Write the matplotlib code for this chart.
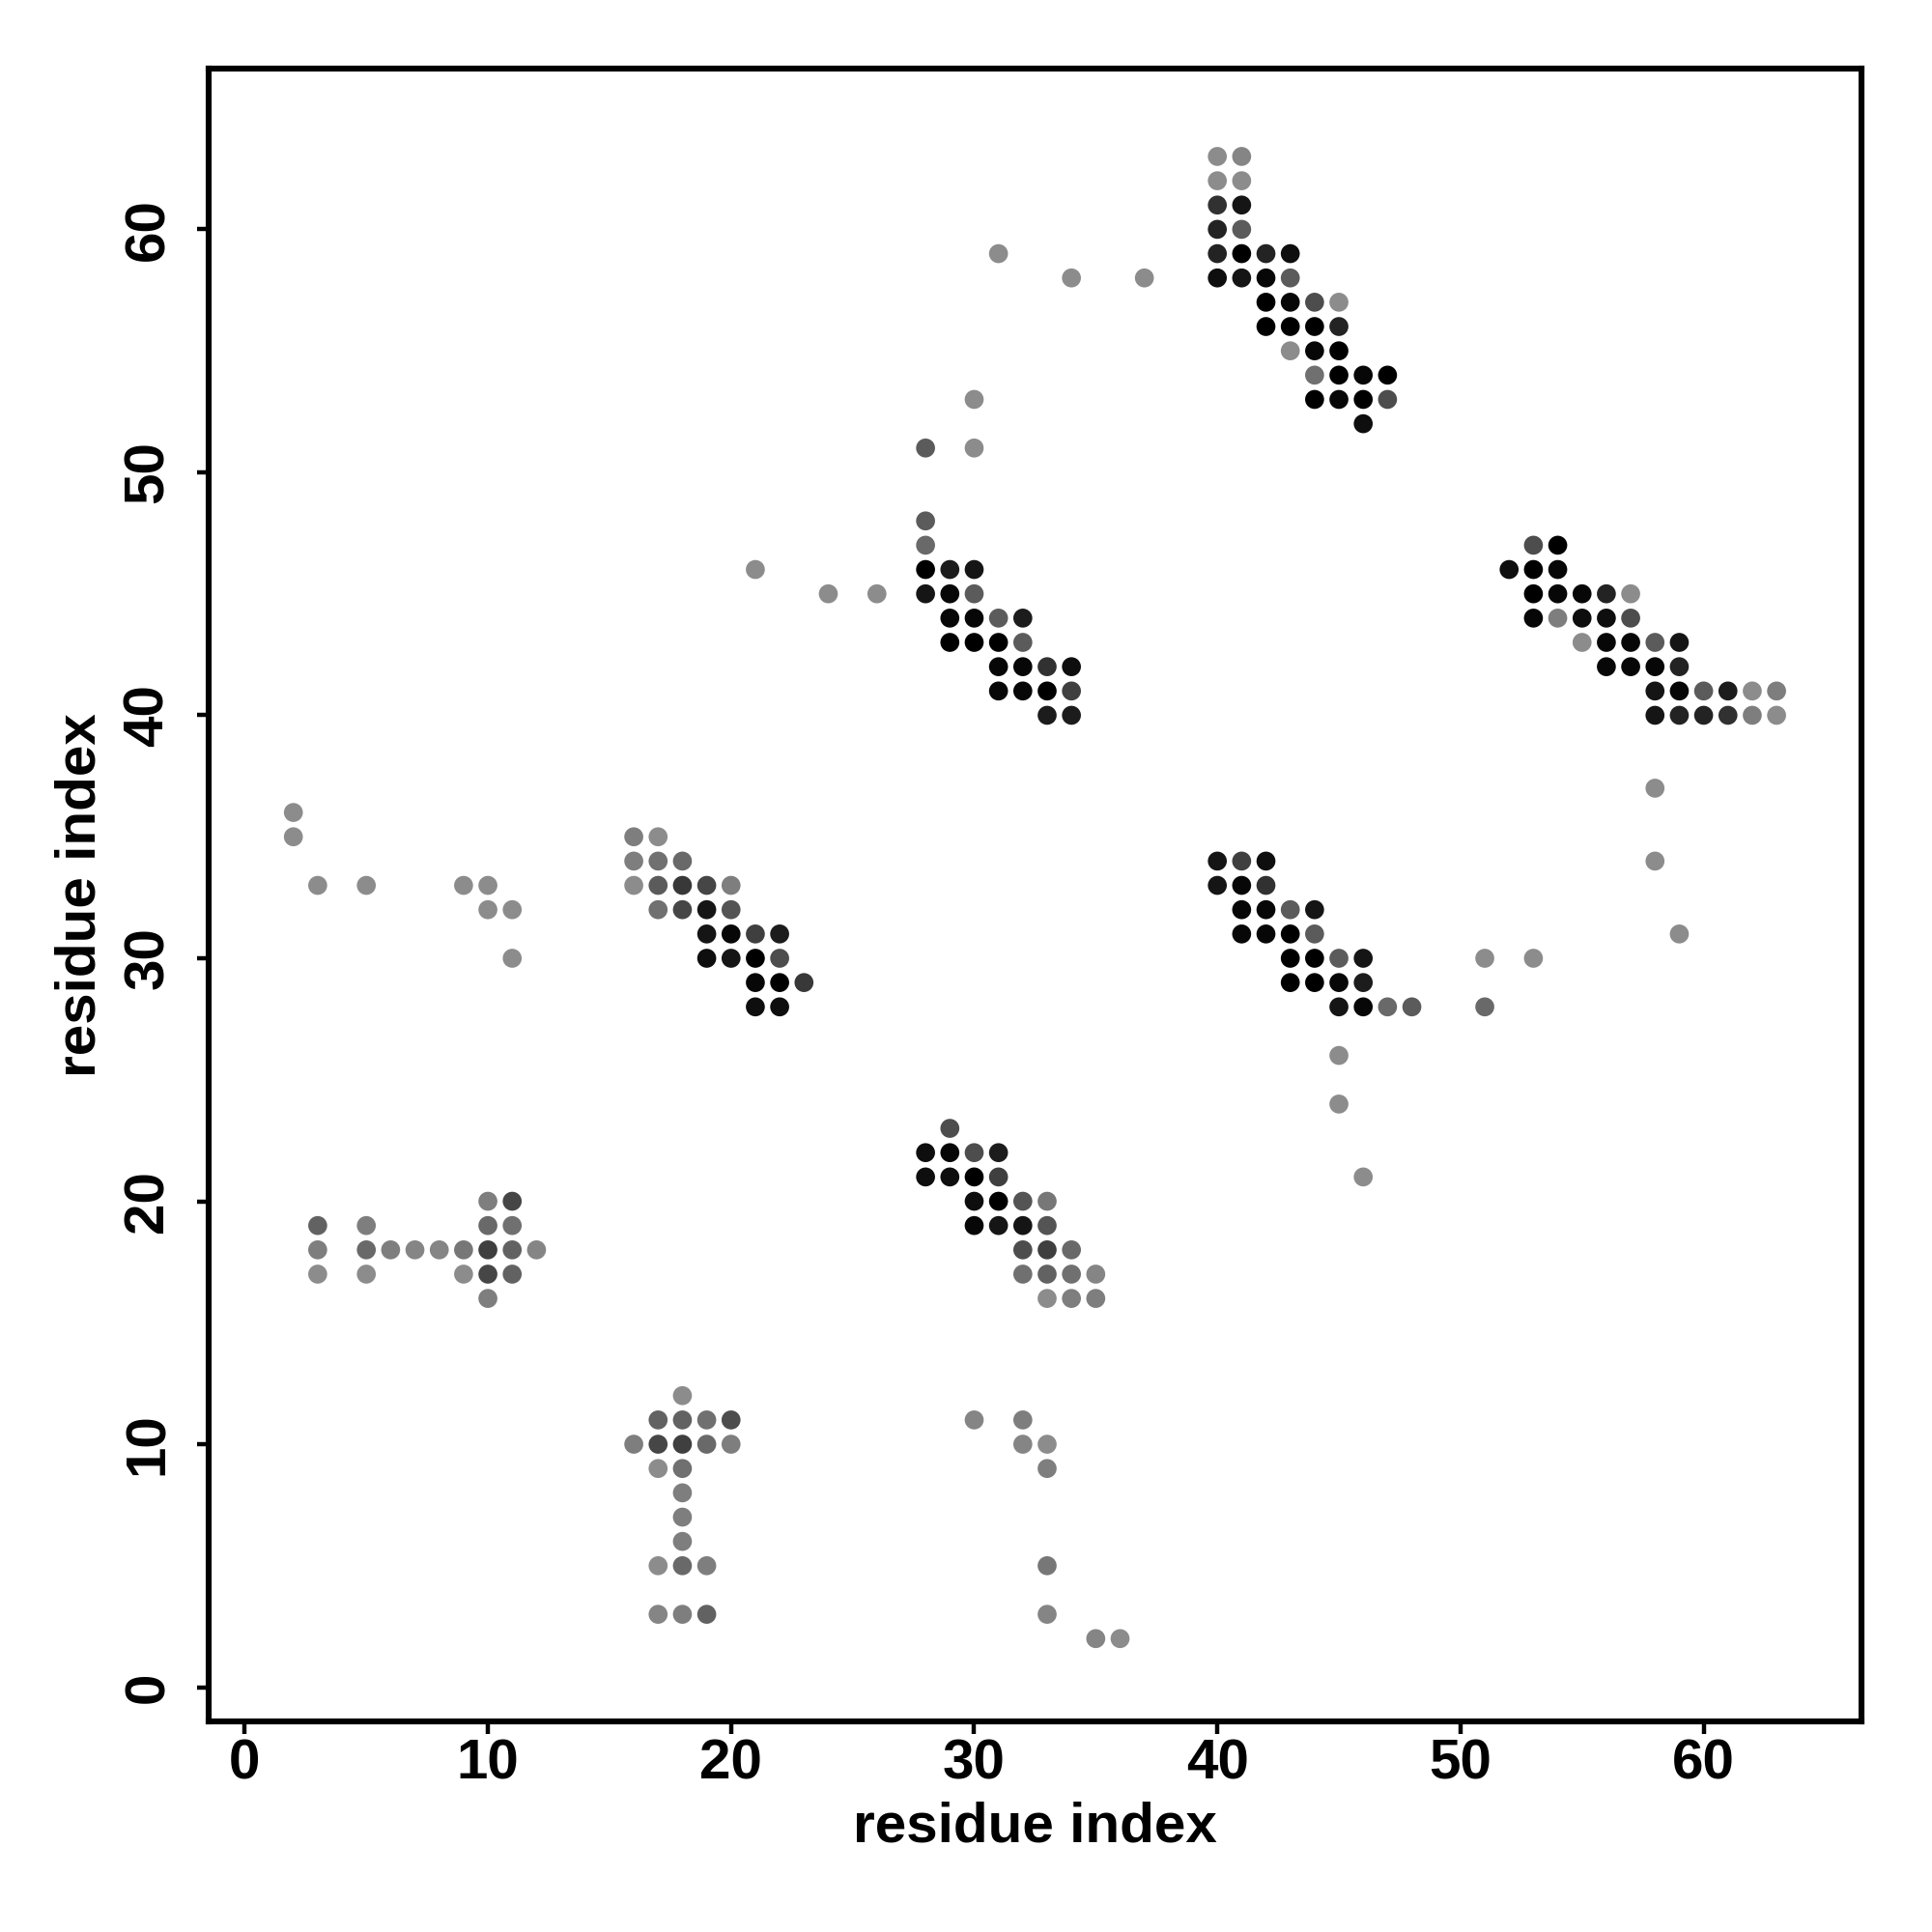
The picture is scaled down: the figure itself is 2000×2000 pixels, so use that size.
import matplotlib
matplotlib.use("Agg")
import matplotlib.pyplot as plt
import numpy as np
from matplotlib.colors import LinearSegmentedColormap

# contact map: residue i, residue j, contact strength (0 = weak/grey, 1 = strong/black)
res_x = [
    # top-right block
    40, 41, 40, 41, 40, 41, 40, 41, 40, 41, 42, 43, 40, 41, 42, 43,
    42, 43, 44, 45, 42, 43, 44, 45, 43, 44, 45, 44, 45, 46, 47, 44, 45, 46, 47, 46,
    31, 34, 37,
    # middle block
    30, 28, 30, 28, 28, 28, 29, 30, 28, 29, 30, 29, 30, 31, 32, 29, 30, 31, 32,
    31, 32, 33, 34, 31, 32, 33, 34, 33, 34,
    21, 24, 26,
    # right block
    53, 54, 52, 53, 54, 53, 54, 55, 56, 57, 53, 54, 55, 56, 57,
    55, 56, 57, 58, 59, 56, 57, 58, 59, 58, 59, 60, 61, 62, 63, 58, 59, 60, 61, 62, 63,
    58, 58, 59, 51, 53,
    # middle-right block
    40, 41, 42, 40, 41, 42, 41, 42, 43, 44, 41, 42, 43, 44, 43, 44, 45, 46,
    43, 44, 45, 46, 45, 46, 47, 48, 51, 45, 45, 46,
    # left middle
    2, 2, 3, 5, 9, 10, 10, 11, 11,
    16, 17, 16, 17, 18, 16, 17, 18, 19, 20, 17, 18, 19, 20, 19, 20, 21, 22,
    19, 20, 21, 22, 21, 22, 23, 21, 22,
    # lower middle block
    29, 28, 29, 30, 31, 28, 29, 30, 31, 30, 31, 32, 33, 30, 31, 32, 33,
    32, 33, 34, 32, 33, 34, 35, 33, 34, 35,
    # lower left
    10, 11, 3, 5, 10, 11, 3, 5, 6, 7, 8, 9, 10, 11, 12, 3, 5, 9, 10, 11, 10,
    # bottom
    18, 17, 18, 19, 20, 16, 17, 18, 19, 20, 17, 18, 18, 18, 18, 17, 18, 19, 17, 18, 19,
    30, 32, 32, 33, 33, 33, 33, 35, 36,
]
res_y = [
    63, 63, 62, 62, 61, 61, 60, 60, 59, 59, 59, 59, 58, 58, 58, 58,
    57, 57, 57, 57, 56, 56, 56, 56, 55, 55, 55, 54, 54, 54, 54, 53, 53, 53, 53, 52,
    59, 58, 58,
    53, 51, 51, 48, 47, 46, 46, 46, 45, 45, 45, 44, 44, 44, 44, 43, 43, 43, 43,
    42, 42, 42, 42, 41, 41, 41, 41, 40, 40,
    46, 45, 45,
    47, 47, 46, 46, 46, 45, 45, 45, 45, 45, 44, 44, 44, 44, 44,
    43, 43, 43, 43, 43, 42, 42, 42, 42, 41, 41, 41, 41, 41, 41, 40, 40, 40, 40, 40, 40,
    37, 34, 31, 30, 30,
    34, 34, 34, 33, 33, 33, 32, 32, 32, 32, 31, 31, 31, 31, 30, 30, 30, 30,
    29, 29, 29, 29, 28, 28, 28, 28, 28, 26, 24, 21,
    36, 35, 33, 33, 33, 33, 32, 32, 30,
    35, 35, 34, 34, 34, 33, 33, 33, 33, 33, 32, 32, 32, 32, 31, 31, 31, 31,
    30, 30, 30, 30, 29, 29, 29, 28, 28,
    23, 22, 22, 22, 22, 21, 21, 21, 21, 20, 20, 20, 20, 19, 19, 19, 19,
    18, 18, 18, 17, 17, 17, 17, 16, 16, 16,
    20, 20, 19, 19, 19, 19, 18, 18, 18, 18, 18, 18, 18, 18, 18, 17, 17, 17, 17, 17, 16,
    12, 11, 11, 11, 11, 10, 10, 10, 10, 10, 9, 9, 8, 7, 6, 5, 5, 5, 3, 3, 3,
    11, 11, 10, 10, 9, 5, 3, 2, 2,
]
strength = [
    0.0, 0.05, 0.0, 0.0, 0.65, 0.85, 0.75, 0.35, 0.75, 1.0, 0.75, 0.9, 0.9, 0.85, 0.95, 0.35,
    1.0, 0.95, 0.45, 0.0, 1.0, 1.0, 1.0, 0.75, 0.0, 0.95, 1.0, 0.2, 1.0, 0.95, 1.0, 1.0, 0.95, 1.0, 0.45, 0.9,
    0.0, 0.0, 0.0,
    0.0, 0.35, 0.0, 0.35, 0.25, 1.0, 0.8, 0.85, 0.85, 0.95, 0.35, 0.95, 0.95, 0.35, 0.8, 1.0, 1.0, 1.0, 0.35,
    0.95, 0.95, 0.65, 0.9, 0.95, 0.95, 1.0, 0.55, 0.8, 0.8,
    0.0, 0.0, 0.0,
    0.45, 1.0, 0.9, 1.0, 0.95, 1.0, 0.95, 0.95, 0.75, 0.0, 0.95, 0.1, 0.9, 0.9, 0.45,
    0.0, 0.95, 0.95, 0.35, 0.85, 0.95, 0.95, 0.95, 0.75, 0.85, 0.95, 0.35, 0.8, 0.0, 0.1,
    0.85, 0.75, 0.75, 0.65, 0.1, 0.0,
    0.0, 0.0, 0.0, 0.0, 0.0,
    0.85, 0.55, 0.9, 0.85, 0.95, 0.65, 0.95, 0.95, 0.35, 0.85, 0.95, 0.95, 1.0, 0.35,
    1.0, 1.0, 0.35, 0.85, 1.0, 1.0, 0.95, 0.8, 0.85, 0.95, 0.25, 0.35, 0.25, 0.0, 0.0, 0.0,
    0.0, 0.0, 0.0, 0.0, 0.0, 0.0, 0.0, 0.0, 0.0,
    0.1, 0.0, 0.1, 0.2, 0.25, 0.0, 0.35, 0.6, 0.5, 0.1, 0.2, 0.5, 0.85, 0.4,
    0.85, 0.95, 0.55, 0.8, 0.9, 0.85, 1.0, 0.45, 0.95, 1.0, 0.6, 0.9, 0.9,
    0.45, 0.9, 0.95, 0.45, 0.8, 0.9, 0.9, 1.0, 0.55, 0.9, 1.0, 0.4, 0.15, 0.95, 0.85, 0.85, 0.4,
    0.45, 0.55, 0.25, 0.2, 0.3, 0.2, 0.05, 0.0, 0.1, 0.1,
    0.1, 0.5, 0.3, 0.1, 0.25, 0.2, 0.1, 0.25, 0.1, 0.05, 0.05, 0.15, 0.55, 0.3, 0.05, 0.0, 0.0, 0.0, 0.5, 0.3, 0.1,
    0.0, 0.3, 0.3, 0.2, 0.45, 0.1, 0.5, 0.55, 0.25, 0.1, 0.0, 0.2, 0.1, 0.1, 0.1, 0.0, 0.25, 0.1, 0.05, 0.1, 0.3,
    0.05, 0.1, 0.05, 0.0, 0.1, 0.15, 0.05, 0.05, 0.0,
]

x_ticks = [0, 10, 20, 30, 40, 50, 60]
y_ticks = [0, 10, 20, 30, 40, 50, 60]

plt.rcParams["font.family"] = ["Liberation Sans", "DejaVu Sans"]
plt.rcParams["font.weight"] = "bold"

# weak contacts grey, strong contacts black
grey_map = LinearSegmentedColormap.from_list("contact", ["#8c8c8c", "#000000"])

fig = plt.figure(figsize=(10, 10), dpi=200)
ax = fig.add_axes([0.1078, 0.1091, 0.9636 - 0.1078, 0.9643 - 0.1091])
ax.scatter(res_x, res_y, c=strength, cmap=grey_map, vmin=0, vmax=1, s=50,
           linewidths=0, zorder=3)

ax.set_xlim(-1.5, 66.5)
ax.set_ylim(-1.4, 66.6)
ax.set_xticks(x_ticks)
ax.set_yticks(y_ticks)
ax.tick_params(axis="both", direction="out", length=4.5, width=1.6, labelsize=21)
ax.tick_params(axis="x", pad=2)
ax.tick_params(axis="y", pad=8)
for lab in ax.get_yticklabels():
    lab.set_rotation(90)
    lab.set_va("center")
for sp in ax.spines.values():
    sp.set_linewidth(2.2)

ax.set_xlabel("residue index", fontsize=21, fontweight="bold", labelpad=4)
ax.set_ylabel("residue index", fontsize=21, fontweight="bold", labelpad=6)

fig.savefig("out.png", dpi=200)
